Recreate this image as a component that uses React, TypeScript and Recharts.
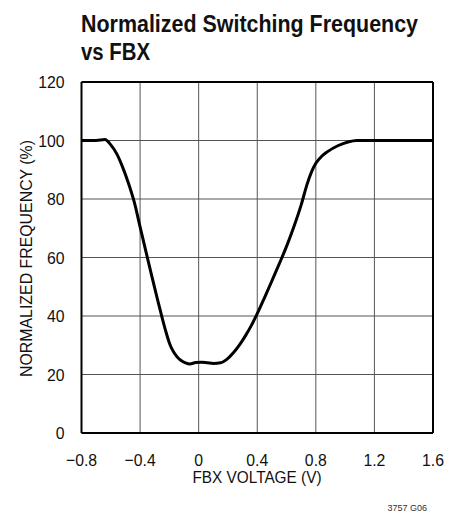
import React from "react";
import {
  CartesianGrid,
  Line,
  LineChart,
  ReferenceLine,
  XAxis,
  YAxis,
} from "recharts";

const fbxVoltage = [
  -0.8, -0.7, -0.64, -0.6, -0.56, -0.52, -0.48, -0.44, -0.4, -0.36, -0.32, -0.28, -0.25, -0.22,
  -0.2, -0.18, -0.15, -0.12, -0.09, -0.06, -0.02, 0.02, 0.06, 0.1, 0.15, 0.19, 0.24, 0.28, 0.32,
  0.36, 0.4, 0.45, 0.5, 0.55, 0.6, 0.65, 0.7, 0.74, 0.77, 0.8, 0.84, 0.88, 0.95, 1.02, 1.08,
  1.2, 1.4, 1.6,
];
const normFrequency = [
  100, 100, 100.3, 98.5, 95.5, 91, 85.5, 79, 70.5, 62, 53.6, 45.4, 39.5, 34,
  30.8, 28.5, 26.2, 24.8, 24, 23.6, 24.1, 24.2, 24.0, 23.8, 24, 25.1, 27.6, 30.2, 33.3,
  36.8, 40.8, 46.3, 52, 57.8, 63.8, 70.5, 78, 85, 89.2, 92.2, 94.6, 96.2, 98.2, 99.5, 100,
  100, 100, 100,
];

const xTicks = [-0.8, -0.4, 0, 0.4, 0.8, 1.2, 1.6];
const yTicks = [0, 20, 40, 60, 80, 100, 120];

const data = fbxVoltage.map((v, i) => ({ v, f: normFrequency[i] }));

const FONT = "'Liberation Sans', Arial, Helvetica, sans-serif";

function fmtX(v: number) {
  if (v === 0) return "0";
  const s = Math.abs(v).toFixed(1);
  return v < 0 ? "\u2212" + s : s;
}

function XTick(props: any) {
  const { x, y, payload } = props;
  return (
    <g transform={`translate(${x},${y})`}>
      <text
        transform="scale(0.93,1)"
        textAnchor="middle"
        y={25}
        fontSize={17}
        fontFamily={FONT}
        fill="#111"
      >
        {fmtX(payload.value)}
      </text>
    </g>
  );
}

function YTick(props: any) {
  const { x, y, payload } = props;
  return (
    <g transform={`translate(${x},${y})`}>
      <text
        transform="scale(0.93,1)"
        textAnchor="end"
        x={0}
        y={6}
        fontSize={17}
        fontFamily={FONT}
        fill="#111"
      >
        {payload.value}
      </text>
    </g>
  );
}

export default function App() {
  return (
    <div style={{ position: "absolute", left: 0, top: 0, width: 461, height: 513, background: "#fff" }}>
      <LineChart
        width={461}
        height={513}
        data={data}
        margin={{ top: 82, right: 28, bottom: 50, left: 21.5 }}
      >
        <CartesianGrid stroke="#555" strokeWidth={1} />
        <XAxis
          type="number"
          dataKey="v"
          domain={[-0.8, 1.6]}
          ticks={xTicks}
          tick={<XTick />}
          tickLine={false}
          axisLine={{ stroke: "#000", strokeWidth: 2 }}
          height={30}
          interval={0}
        />
        <YAxis
          type="number"
          domain={[0, 120]}
          ticks={yTicks}
          tick={<YTick />}
          tickLine={false}
          axisLine={{ stroke: "#000", strokeWidth: 2 }}
          width={60}
          tickMargin={11}
          interval={0}
        />
        <ReferenceLine y={120} stroke="#000" strokeWidth={2} />
        <ReferenceLine x={1.6} stroke="#000" strokeWidth={2} />
        <Line
          type="monotone"
          dataKey="f"
          stroke="#000"
          strokeWidth={3}
          dot={false}
          isAnimationActive={false}
        />
      </LineChart>
      <svg
        width={461}
        height={513}
        style={{ position: "absolute", left: 0, top: 0, pointerEvents: "none" }}
      >
        <g fontFamily={FONT} fill="#111">
          <text x={81} y={31.5} fontSize={23} fontWeight="bold" textLength={337} lengthAdjust="spacingAndGlyphs">
            Normalized Switching Frequency
          </text>
          <text x={81} y={59.5} fontSize={23} fontWeight="bold" textLength={69} lengthAdjust="spacingAndGlyphs">
            vs FBX
          </text>
          <text
            transform="translate(32,258.5) rotate(-90)"
            textAnchor="middle"
            fontSize={17}
            textLength={237}
            lengthAdjust="spacingAndGlyphs"
          >
            NORMALIZED FREQUENCY (%)
          </text>
          <text x={257} y={483} textAnchor="middle" fontSize={17} textLength={129} lengthAdjust="spacingAndGlyphs">
            FBX VOLTAGE (V)
          </text>
          <text x={427} y={511} textAnchor="end" fontSize={9} fill="#333">
            3757 G06
          </text>
        </g>
      </svg>
    </div>
  );
}
